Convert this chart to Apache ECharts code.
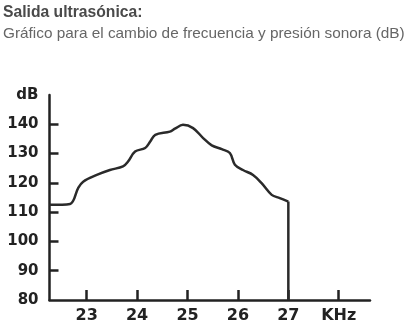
<!DOCTYPE html>
<html><head><meta charset="utf-8">
<script src="https://cdn.jsdelivr.net/npm/echarts@6/dist/echarts.min.js"></script>
<style>html,body{margin:0;padding:0;background:#fff}#c{width:414px;height:328px}</style>
</head><body><div id="c"></div>
<script>
var titleText = 'Salida ultrasónica:';
var subtitleText = 'Gráfico para el cambio de frecuencia y presión sonora (dB)';
var freq = [22.26, 22.67, 22.83, 22.93, 23.2, 23.46, 23.72, 23.82, 23.96, 24.16, 24.26, 24.36, 24.65, 24.75, 24.91, 25.11, 25.31, 25.48, 25.68, 25.84, 25.94, 26.1, 26.3, 26.47, 26.67, 26.83, 27.0];
var dB = [112.5, 112.8, 118.2, 120.4, 122.7, 124.4, 125.6, 127.3, 130.7, 131.9, 134.1, 136.4, 137.5, 138.5, 139.8, 138.7, 135.3, 132.8, 131.5, 130.2, 126.2, 124.4, 122.7, 119.9, 115.9, 114.8, 113.6];
var xTicks = [23, 24, 25, 26, 27, 28];
var xTickLabels = ['23', '24', '25', '26', '27', 'KHz'];
var yTicks = [90, 100, 110, 120, 130, 140];
var yLabelValues = [80, 90, 100, 110, 120, 130, 140, 150];
var yTickLabels = ['80', '90', '100', '110', '120', '130', '140', 'dB'];

var curve = freq.map(function (f, i) { return [f, dB[i]]; });
var cutoff = freq[freq.length - 1];
var drop = [[cutoff, dB[dB.length - 1]], [cutoff, yLabelValues[0]]];

var chart = echarts.init(document.getElementById('c'));
chart.setOption({
  animation: false,
  backgroundColor: '#fff',
  title: [
    { text: titleText, left: -2, top: 0, textStyle: { fontFamily: 'Liberation Sans', fontWeight: 'bold', fontSize: 15.7, color: '#4a4a4a' } },
    { text: subtitleText, left: -2, top: 21, textStyle: { fontFamily: 'Liberation Sans', fontWeight: 'normal', fontSize: 15.35, color: '#666' } }
  ],
  grid: { left: 49.5, right: 44, top: 95, bottom: 28 },
  xAxis: {
    type: 'value', min: 22.262, max: 28.62,
    axisLine: { lineStyle: { color: '#222', width: 2.5 } },
    axisTick: { show: true, inside: true, length: 10, customValues: xTicks, lineStyle: { color: '#222', width: 2.5 } },
    axisLabel: {
      customValues: xTicks, margin: 8,
      formatter: function (v) { var i = xTicks.indexOf(Math.round(v)); return xTickLabels[i]; },
      fontFamily: 'DejaVu Sans', fontWeight: 'bold', fontSize: 16, color: '#222'
    },
    splitLine: { show: false }
  },
  yAxis: {
    type: 'value', min: 80, max: 150,
    axisLine: { show: true, lineStyle: { color: '#222', width: 2.5 } },
    axisTick: { show: true, inside: true, length: 9, customValues: yTicks, lineStyle: { color: '#222', width: 2.5 } },
    axisLabel: {
      customValues: yLabelValues, margin: 11,
      formatter: function (v) { var i = yLabelValues.indexOf(Math.round(v)); return yTickLabels[i]; },
      fontFamily: 'DejaVu Sans', fontWeight: 'bold', fontSize: 15, color: '#222'
    },
    splitLine: { show: false }
  },
  series: [
    { type: 'line', data: curve, smooth: 0.35, showSymbol: false, lineStyle: { color: '#2a2a2a', width: 2.5 } },
    { type: 'line', data: drop, showSymbol: false, lineStyle: { color: '#2a2a2a', width: 2.5 } }
  ]
});
</script></body></html>
